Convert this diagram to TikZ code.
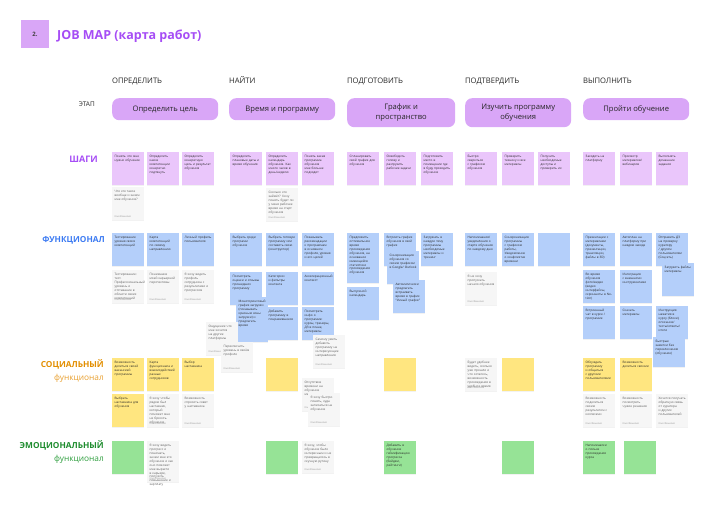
\documentclass[tikz,border=0pt]{standalone}
\usepackage{fontspec}
\setmainfont{Open Sans}
\usetikzlibrary{positioning}
\usetikzlibrary{shadows}
\definecolor{pillFon}{RGB}{217,166,247}
\definecolor{shagFon}{RGB}{234,198,251}
\definecolor{funcFon}{RGB}{180,207,250}
\definecolor{socFon}{RGB}{255,230,128}
\definecolor{emoFon}{RGB}{150,227,150}
\definecolor{kommFon}{RGB}{246,246,246}
\definecolor{shagTekst}{RGB}{166,77,245}
\definecolor{funcTekst}{RGB}{61,123,242}
\definecolor{socTekst}{RGB}{226,142,0}
\definecolor{socTekstB}{RGB}{232,160,48}
\definecolor{emoTekst}{RGB}{30,140,46}
\definecolor{emoTekstB}{RGB}{46,158,62}
\tikzset{
  stikker/.style={
    rectangle, anchor=north west, align=left, text width=27pt,
    text height=3pt, text depth=25pt, inner sep=2.5pt,
    font=\fontsize{3.1}{3.9}\selectfont, text=black!85,
    drop shadow={shadow xshift=0pt, shadow yshift=-0.7pt, opacity=0.10}
  },
  shag/.style={stikker, fill=shagFon},
  func/.style={stikker, fill=funcFon},
  soc/.style={stikker, fill=socFon},
  emo/.style={stikker, fill=emoFon},
  komm/.style={stikker, fill=kommFon, text=black!65,
    label={[podpis]south west:Имя Фамилия}},
  podpis/.style={anchor=south west, inner sep=2.5pt,
    font=\fontsize{2.4}{3}\selectfont, text=black!40},
  etap/.style={
    rectangle, rounded corners=7pt, fill=pillFon, anchor=north west,
    minimum width=106pt, minimum height=22pt, align=center,
    font=\fontsize{7.6}{9.5}\selectfont, text=black!85
  },
  shapka/.style={anchor=base west, inner sep=0pt, font=\fontsize{7.6}{8}\selectfont, text=black!85},
  stroka/.style={anchor=base east, align=right, inner sep=0pt, font=\bfseries\fontsize{8.3}{13}\selectfont}
}
\begin{document}
\begin{tikzpicture}[x=1pt, y=-1pt]
  \useasboundingbox (0,0) rectangle (721,517);

  % Заголовок
  \node[fill=pillFon, minimum size=28pt, inner sep=0pt, font=\bfseries\fontsize{6}{7}\selectfont, text=black!75] (nomer) at (35,34) {2.};
  \node[anchor=base west, inner sep=0pt, font=\bfseries\fontsize{12.5}{15}\selectfont, text=shagTekst] (titul) at (57,39) {JOB MAP (карта работ)};

  % Этапы
  \node[shapka] (h1) at (112,83) {ОПРЕДЕЛИТЬ};
  \node[shapka] (h2) at (229,83) {НАЙТИ};
  \node[shapka] (h3) at (347,83) {ПОДГОТОВИТЬ};
  \node[shapka] (h4) at (465,83) {ПОДТВЕРДИТЬ};
  \node[shapka] (h5) at (583,83) {ВЫПОЛНИТЬ};
  \node[anchor=base east, inner sep=0pt, font=\fontsize{6.5}{8}\selectfont, text=black!85] (etapy) at (95,106) {ЭТАП};

  \node[etap] (e1) at (112,98) {Определить цель};
  \node[etap] (e2) at (229,98) {Время и программу};
  \node[etap, minimum width=108pt, minimum height=29pt] (e3) at (347,98) {График и\\пространство};
  \node[etap, minimum height=29pt] (e4) at (465,98) {Изучить программу\\обучения};
  \node[etap] (e5) at (583,98) {Пройти обучение};

  % Подписи строк
  \node[stroka, font=\bfseries\fontsize{9}{11}\selectfont, text=shagTekst] (lshag) at (98,162) {ШАГИ};
  \node[stroka, text=funcTekst] (lfunc) at (105,242) {ФУНКЦИОНАЛ};
  \node[stroka, text=socTekst] (lsoc) at (104,380) {СОЦИАЛЬНЫЙ\\{\mdseries\color{socTekstB}функционал}};
  \node[stroka, text=emoTekst] (lemo) at (104,461) {ЭМОЦИОНАЛЬНЫЙ\\{\mdseries\color{emoTekstB}функционал}};

  % Шаги
  \node[shag] (s11) at (112,152) {Понять что мне нужно обучение};
  \node[shag] (s12) at (147,152) {Определить какие компетенции конкретно подтянуть};
  \node[shag] (s13) at (182,152) {Определить конкретную цель и результат обучения};
  \node[shag] (s21) at (230,152) {Определить плановые даты и время обучения};
  \node[shag] (s22) at (266,152) {Определить календарь обучения. Как много часов в день/неделю};
  \node[shag] (s23) at (302,152) {Понять какая программа обучения мне больше подходит};
  \node[shag] (s31) at (347,152) {Спланировать свой график для обучения};
  \node[shag] (s32) at (384,152) {Освободить голову и разгрузить рабочие задачи};
  \node[shag] (s33) at (421,152) {Подготовить место в помещении где я буду проходить обучение};
  \node[shag] (s41) at (465,152) {Быстро свериться с графиком обучения};
  \node[shag] (s42) at (502,152) {Проверить технику и все материалы};
  \node[shag] (s43) at (538,152) {Получить необходимые доступы и проверить их};
  \node[shag] (s51) at (583,152) {Заходить на платформу};
  \node[shag] (s52) at (620,152) {Просмотр материалов/ вебинаров};
  \node[shag] (s53) at (656,152) {Выполнять домашние задания};

  \node[komm] (ks1) at (112,187) {Что это такое вообще и зачем мне обучение?};
  \node[komm] (ks2) at (266,188) {Сколько это займёт? Хочу понять будет ли у меня рабочее время на старт обучения};

  % Функционал
  \node[func] (f11) at (112,233) {Тестирование уровня своих компетенций};
  \node[func] (f12) at (147,233) {Карта компетенций по своему направлению};
  \node[func] (f13) at (182,233) {Личный профиль пользователя};
  \node[komm] (kf11) at (112,270) {Тестирование: тест. Профессиональный уровень и отставание в области своих компетенций};
  \node[komm] (kf12) at (147,270) {Понимание моей карьерной перспективы};
  \node[komm] (kf13) at (182,270) {Я хочу видеть профиль сотрудника с результатами и прогрессом};

  \node[func] (f21) at (230,233) {Выбрать среди программ обучение};
  \node[func] (f22) at (266,233) {Выбрать готовую программу или составить свою (конструктор)};
  \node[func] (f23) at (302,233) {Показывать рекомендации к программам в основном профиля, уровня и его целей};
  \node[func] (f24) at (230,272) {Посмотреть оценки и отзывы прошедших программу};
  \node[func] (f25) at (266,272) {Категории и фильтры контента};
  \node[func] (f26) at (302,272) {Акселерационный контекст};
  \node[func] (f27) at (266,307) {Добавить программу в понравившееся};
  \node[func] (f28) at (302,307) {Посмотреть инфо о программе: курсы, тренеры, ДЗ в плане, материалы};
  \node[func, text depth=37pt] (f29) at (236,297) {Мониторинговый график загрузки (показывать красным зоны загрузки) и предлагать время};
  \node[komm] (kf21) at (206,322) {Ощущение что мне хочется на другие платформы};
  \node[komm, text depth=22pt] (kf22) at (221,342) {Переключить уровень в своём профиле};
  \node[komm] (kf23) at (313,335) {Самому уметь добавить программу на интересующие направления};

  \node[func, text depth=42pt] (f31) at (347,233) {Предложить оптимальное время прохождения обучения, на основании имеющейся статистики прохождения обучения};
  \node[func] (f32) at (384,233) {Встроить график обучения в свой график};
  \node[func] (f33) at (421,233) {Загружать в каждую тему программы необходимые материалы и тренинг};
  \node[func] (f34) at (347,287) {Выпускной календарь};
  \node[func] (f35) at (387,251) {Синхронизация обучения со своим графиком в Google/ Outlook};
  \node[func] (f36) at (393,280) {Автоматически предлагать встраивать время в график “Умный график”};

  \node[func] (f41) at (465,233) {Напоминания/ уведомления о старте обучения по каждому дню};
  \node[func] (f42) at (502,233) {Синхронизация программы с графиком работы, Уведомление о конфликтах времени};
  \node[func] (f43) at (538,233) {};
  \node[komm] (kf41) at (465,272) {Я не хочу пропускать начало обучения};

  \node[func] (f51) at (583,233) {Презентации с материалами (документы, презентации, трансляции, файлы в 3D)};
  \node[func] (f52) at (620,233) {Автоплан на платформу при каждом заходе};
  \node[func] (f53) at (656,233) {Отправить ДЗ на проверку куратору / другим пользователям (Соцсеть)};
  \node[func] (f54) at (662,263) {Загрузить файлы материалы};
  \node[func] (f55) at (583,270) {Во время обучения фото/видео (видео интерфейсы, скриншоты в Notion)};
  \node[func] (f56) at (620,270) {Интеграция с внешними инструментами};
  \node[func] (f57) at (583,306) {Встроенный чат в курсе / программе};
  \node[func] (f58) at (620,306) {Скачать материалы};
  \node[func] (f59) at (656,306) {Инструкция нажатия в курсу (блоки), описание/ тесты/ответы/ итоги};
  \node[func, text depth=22pt] (f510) at (653,337) {Быстрые заметки без переключения (обучение)};

  % Социальный функционал
  \node[soc] (c11) at (112,358) {Возможность делиться своей вакансией программы};
  \node[soc] (c12) at (147,358) {Карта функционала и взаимодействий разных сотрудников};
  \node[soc] (c13) at (182,358) {Выбор наставника};
  \node[soc] (c14) at (112,394) {Выбрать наставника для обучения};
  \node[komm] (kc12) at (147,394) {Я хочу чтобы рядом был наставник, который поможет мне не бросить обучение};
  \node[komm] (kc13) at (182,394) {Возможность спросить совет у наставника};

  \node[soc] (c21) at (266,358) {};
  \node[komm] (kc21) at (302,378) {Отсутствие времени на обучение мешает мне};
  \node[komm] (kc22) at (308,393) {Я хочу быстро понять, куда записаться на обучение};

  \node[soc] (c31) at (384,358) {};

  \node[komm] (kc41) at (465,358) {Будет удобнее видеть, сколько уже прошли и что осталось, возможность прохождения в удобное время};
  \node[soc] (c41) at (502,358) {};

  \node[soc] (c51) at (583,358) {Обсуждать программу и общаться с другими пользователями};
  \node[soc] (c52) at (620,358) {Возможность делиться своими};
  \node[komm] (kc51) at (583,394) {Возможность поделиться своим результатом с коллегами};
  \node[komm] (kc52) at (620,394) {Возможность посмотреть чужие решения};
  \node[komm] (kc53) at (656,394) {Хочется получать обратную связь от куратора и других пользователей};

  % Эмоциональный функционал
  \node[emo] (m11) at (112,441) {};
  \node[komm, text depth=33pt] (km11) at (147,441) {Я хочу видеть прогресс и понимать, зачем мне это обучение и как оно поможет мне вырасти в карьере, получить повышение и зарплату};
  \node[emo] (m21) at (266,441) {};
  \node[komm, text depth=24pt] (km21) at (302,441) {Я хочу, чтобы обучение было интересным и не превращалось в скучную рутину};
  \node[emo] (m31) at (384,441) {Добавить в обучение геймификацию прогресса (бейджи, рейтинги)};
  \node[emo] (m41) at (502,441) {};
  \node[emo] (m51) at (583,441) {Напоминалки о пользе прохождения курса};
  \node[emo] (m52) at (624,441) {};
\end{tikzpicture}
\end{document}
